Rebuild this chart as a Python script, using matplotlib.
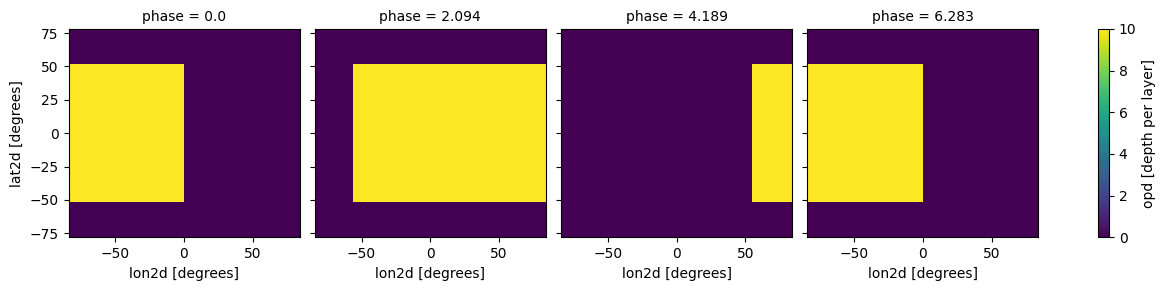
import numpy as np
import matplotlib
matplotlib.use("Agg")
import matplotlib.pyplot as plt

phases = [0.0, 2.094, 4.189, 6.283]
lon_edges = [-84, -56, 0, 55, 84]
lat_edges = [-78, -51.5, 51.5, 78]
# opd values per phase, rows = lat bands (south->north), cols = lon bands
opd_phase0 = [[0, 0, 0, 0], [10, 10, 0, 0], [0, 0, 0, 0]]
opd_phase1 = [[0, 0, 0, 0], [0, 10, 10, 10], [0, 0, 0, 0]]
opd_phase2 = [[0, 0, 0, 0], [0, 0, 0, 10], [0, 0, 0, 0]]
opd_phase3 = [[0, 0, 0, 0], [10, 10, 0, 0], [0, 0, 0, 0]]
opd_all = [opd_phase0, opd_phase1, opd_phase2, opd_phase3]

fig = plt.figure(figsize=(11.65, 2.9), dpi=100)
W, H = 1165, 290
lefts = [68.5, 314.8, 561.1, 807.4]
aw = 231
top, bot = 29, 237.3
axes = []
for i, (ph, data) in enumerate(zip(phases, opd_all)):
    ax = fig.add_axes([lefts[i] / W, (H - bot) / H, aw / W, (bot - top) / H])
    m = ax.pcolormesh(lon_edges, lat_edges, np.array(data, dtype=float),
                      cmap="viridis", vmin=0, vmax=10)
    ax.set_xlim(lon_edges[0], lon_edges[-1])
    ax.set_ylim(lat_edges[0], lat_edges[-1])
    ax.set_xticks([-50, 0, 50])
    ax.set_yticks([-75, -50, -25, 0, 25, 50, 75])
    ax.set_title(f"phase = {ph}", fontsize=10)
    ax.set_xlabel("lon2d [degrees]")
    if i == 0:
        ax.set_ylabel("lat2d [degrees]")
    else:
        ax.set_yticklabels([])
    axes.append(ax)

cax = fig.add_axes([1098 / W, (H - bot) / H, 11 / W, (bot - top) / H])
cb = fig.colorbar(m, cax=cax)
cb.set_label("opd [depth per layer]")
cb.set_ticks([0, 2, 4, 6, 8, 10])

fig.savefig("out.png", dpi=100)
